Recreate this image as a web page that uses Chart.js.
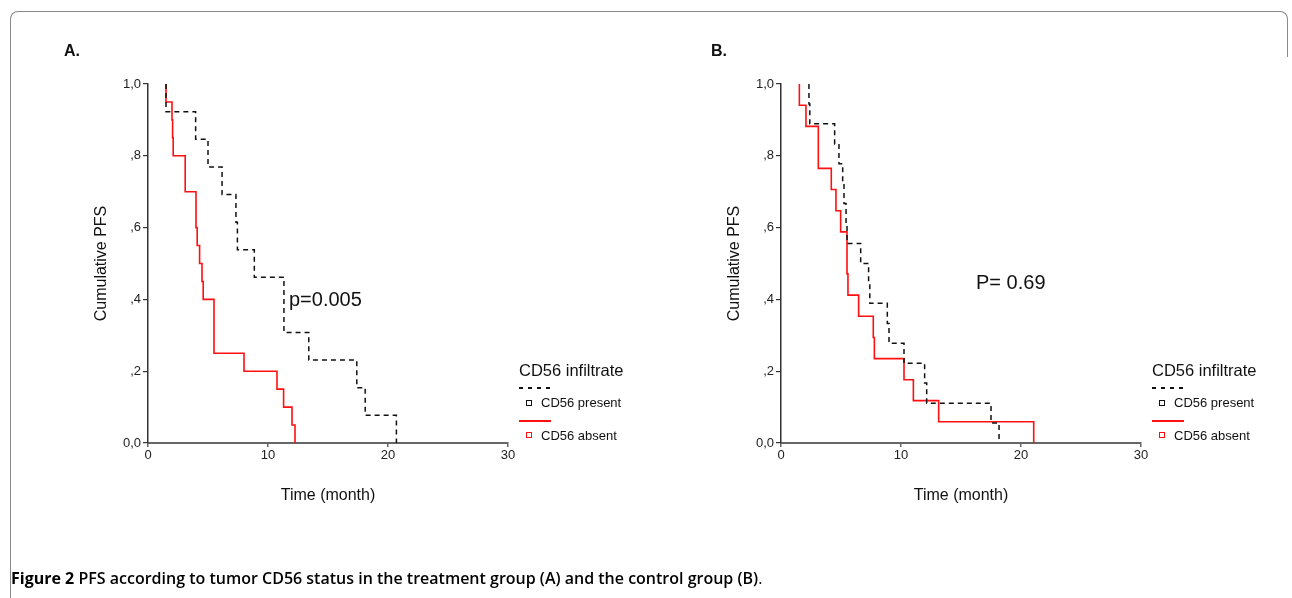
<!DOCTYPE html>
<html>
<head>
<meta charset="utf-8">
<script src="https://cdn.jsdelivr.net/npm/chart.js@4"></script>
<style>
  body { margin: 0; background: #fff; width: 1292px; height: 598px; position: relative; overflow: hidden; font-family: "Liberation Sans", Arial, sans-serif; color: #111; }
  canvas { position: absolute; top: 0; }
  .abs { position: absolute; white-space: nowrap; }
  .frameTop { position: absolute; left: 10px; top: 11px; width: 1276px; height: 45px; border: 1px solid #8a8a8a; border-bottom: none; border-radius: 8px 8px 0 0; }
  .frameLeft { position: absolute; left: 10px; top: 50px; width: 0; height: 550px; border-left: 1px solid #8a8a8a; }
  .panel { position: absolute; font-weight: bold; font-size: 16px; }
  .pval { font-size: 20px; }
  .legTitle { font-size: 16.5px; }
  .legItem { font-size: 13px; }
  .dash { position: absolute; width: 32px; height: 1.5px; background: repeating-linear-gradient(90deg, #111 0 4px, transparent 4px 9px); }
  .solid { position: absolute; width: 32px; height: 1.5px; background: #ff1010; }
  .sq { position: absolute; width: 4px; height: 4px; border: 1px solid #111; }
  .caption { position: absolute; left: 11px; top: 567px; font-family: "Open Sans", sans-serif; font-size: 16px; font-weight: 600; color: #000; }
</style>
</head>
<body>
<div class="frameTop"></div>
<div class="frameLeft"></div>

<canvas id="chartA" width="633" height="598" style="left:0"></canvas>
<canvas id="chartB" width="633" height="598" style="left:633px"></canvas>

<div class="panel abs" style="left:64px; top:42px;">A.</div>
<div class="panel abs" style="left:711px; top:42px;">B.</div>

<div class="pval abs" style="left:289px; top:288px;">p=0.005</div>
<div class="pval abs" style="left:976px; top:271px;">P= 0.69</div>

<div id="legendA"></div>
<div id="legendB"></div>

<div class="caption"><span style="font-weight:700">Figure 2</span> PFS according to tumor CD56 status in the treatment group (A) and the control group (B)<span style="font-weight:400">.</span></div>

<script>
// Panel A - treatment group
const timesA_present = [1.5, 1.5, 3.97, 5.0, 6.17, 7.33, 7.45, 8.86, 11.33, 13.4, 17.4, 18.1, 20.7];
const survA_present = [1.0, 0.923, 0.846, 0.769, 0.692, 0.615, 0.538, 0.462, 0.308, 0.231, 0.154, 0.077, 0];
const timesA_absent = [1.5, 1.5, 2.0, 2.05, 2.1, 3.1, 4.0, 4.1, 4.3, 4.5, 4.6, 5.5, 8.0, 10.75, 11.3, 12.0, 12.25];
const survA_absent = [1.0, 0.95, 0.90, 0.85, 0.80, 0.70, 0.60, 0.55, 0.50, 0.45, 0.40, 0.25, 0.20, 0.15, 0.10, 0.05, 0];

// Panel B - control group
const timesB_present = [2.33, 2.33, 2.4, 4.47, 4.83, 5.14, 5.25, 5.42, 5.5, 6.64, 7.3, 7.4, 8.86, 9.0, 10.25, 11.97, 12.14, 17.5, 18.17];
const survB_present = [1.0, 0.944, 0.889, 0.833, 0.778, 0.722, 0.667, 0.611, 0.556, 0.5, 0.444, 0.389, 0.333, 0.278, 0.222, 0.167, 0.111, 0.056, 0];
const timesB_absent = [1.53, 1.53, 2.08, 3.11, 4.19, 4.58, 4.97, 5.5, 5.58, 6.47, 7.69, 7.78, 10.25, 11.03, 13.14, 21.06];
const survB_absent = [1.0, 0.941, 0.882, 0.765, 0.706, 0.647, 0.588, 0.471, 0.412, 0.353, 0.294, 0.235, 0.176, 0.118, 0.059, 0];

const seriesNames = ['CD56 present', 'CD56 absent'];
const legendTitle = 'CD56 infiltrate';
const yTickLabels = ['0,0', ',2', ',4', ',6', ',8', '1,0'];
const xTicks = [0, 10, 20, 30];

function toPoints(times, surv) {
    return times.map((t, i) => ({ x: t, y: surv[i] }));
}

function makeChart(id, present, absent) {
    const ctx = document.getElementById(id).getContext('2d');
    return new Chart(ctx, {
        type: 'line',
        data: {
            datasets: [
                {
                    label: seriesNames[0],
                    data: present,
                    borderColor: '#111',
                    borderWidth: 1.5,
                    borderDash: [5, 4],
                    stepped: true,
                    pointRadius: 0,
                    clip: false
                },
                {
                    label: seriesNames[1],
                    data: absent,
                    borderColor: '#ff1010',
                    borderWidth: 1.6,
                    stepped: true,
                    pointRadius: 0,
                    clip: false
                }
            ]
        },
        options: {
            responsive: false,
            animation: false,
            layout: { padding: { left: 88, top: 84, right: 125, bottom: 89 } },
            plugins: {
                legend: { display: false },
                tooltip: { enabled: false }
            },
            scales: {
                x: {
                    type: 'linear',
                    min: xTicks[0],
                    max: xTicks[xTicks.length - 1],
                    afterBuildTicks: s => { s.ticks = xTicks.map(v => ({ value: v })); },
                    afterFit: s => { s.height = 66; },
                    border: { display: true, color: '#666', width: 2 },
                    grid: { drawOnChartArea: false, drawTicks: true, tickLength: 4, color: '#666', lineWidth: 1.5 },
                    ticks: { color: '#222', padding: 1, font: { family: 'Liberation Sans', size: 13 } },
                    title: { display: true, text: 'Time (month)', color: '#111', padding: { top: 0, bottom: 4 }, font: { family: 'Liberation Sans', size: 16 } }
                },
                y: {
                    min: 0,
                    max: 1,
                    ticks: {
                        stepSize: 0.2,
                        color: '#222',
                        padding: 2,
                        font: { family: 'Liberation Sans', size: 13 },
                        callback: (v, i) => yTickLabels[i]
                    },
                    afterFit: s => { s.width = 60; },
                    border: { display: true, color: '#333', width: 1.5 },
                    grid: { drawOnChartArea: false, drawTicks: true, tickLength: 5, color: '#333', lineWidth: 1.2 },
                    title: { display: true, text: 'Cumulative PFS', color: '#111', padding: { top: 4, bottom: 0 }, font: { family: 'Liberation Sans', size: 16 } }
                }
            }
        }
    });
}

makeChart('chartA', toPoints(timesA_present, survA_present), toPoints(timesA_absent, survA_absent));
makeChart('chartB', toPoints(timesB_present, survB_present), toPoints(timesB_absent, survB_absent));

// legend blocks (same layout in both panels, B shifted by 633px)
function buildLegend(id, dx) {
    const el = document.getElementById(id);
    el.innerHTML =
        '<div class="legTitle abs" style="left:' + (519 + dx) + 'px; top:361px;">' + legendTitle + '</div>' +
        '<div class="dash" style="left:' + (519 + dx) + 'px; top:387px;"></div>' +
        '<div class="sq" style="left:' + (526 + dx) + 'px; top:400px;"></div>' +
        '<div class="legItem abs" style="left:' + (541 + dx) + 'px; top:395px;">' + seriesNames[0] + '</div>' +
        '<div class="solid" style="left:' + (519 + dx) + 'px; top:420px;"></div>' +
        '<div class="sq" style="left:' + (526 + dx) + 'px; top:432px; border-color:#ff1010"></div>' +
        '<div class="legItem abs" style="left:' + (541 + dx) + 'px; top:428px;">' + seriesNames[1] + '</div>';
}
buildLegend('legendA', 0);
buildLegend('legendB', 633);
</script>
</body>
</html>
